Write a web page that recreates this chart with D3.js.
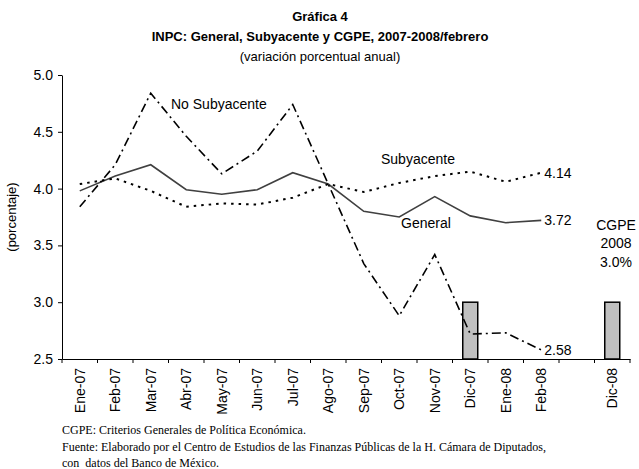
<!DOCTYPE html>
<html>
<head>
<meta charset="utf-8">
<script src="https://cdn.jsdelivr.net/npm/d3@7"></script>
<style>
  body { margin: 0; background: #fff; }
  svg { font-family: Arial, "Liberation Sans", sans-serif; }
  .axis text { font-size: 14px; fill: #000; }
  .axis path, .axis line { stroke: #000; }
</style>
</head>
<body>
<div class="chart"></div>
<script>
// data
const categories = ['Ene-07', 'Feb-07', 'Mar-07', 'Abr-07', 'May-07', 'Jun-07', 'Jul-07',
  'Ago-07', 'Sep-07', 'Oct-07', 'Nov-07', 'Dic-07', 'Ene-08', 'Feb-08', '', 'Dic-08'];
const months = categories.slice(0, 14);
const general = [3.98, 4.11, 4.21, 3.99, 3.95, 3.99, 4.14, 4.04, 3.80, 3.75, 3.93, 3.76, 3.70, 3.72];
const subyacente = [4.04, 4.09, 3.98, 3.84, 3.87, 3.86, 3.92, 4.04, 3.97, 4.05, 4.11, 4.15, 4.06, 4.14];
const noSubyacente = [3.84, 4.21, 4.84, 4.46, 4.13, 4.33, 4.74, 4.04, 3.34, 2.88, 3.42, 2.72, 2.73, 2.58];
const cgpeCats = ['Dic-07', 'Dic-08'];
const cgpeValues = [3.0, 3.0];
const yTicks = [2.5, 3.0, 3.5, 4.0, 4.5, 5.0];

const svgWidth = 639;
const svgHeight = 469;
const margin = { top: 75, right: 9, bottom: 110, left: 62 };
const width = svgWidth - margin.left - margin.right;
const height = svgHeight - margin.top - margin.bottom;

const svg = d3.select('.chart')
  .append('svg')
  .attr('width', svgWidth)
  .attr('height', svgHeight);

const chartGroup = svg.append('g')
  .attr('transform', `translate(${margin.left}, ${margin.top})`);

// scales
const x = d3.scaleBand().domain(categories).range([0, width]).padding(0);
const y = d3.scaleLinear().domain([2.5, 5.0]).range([height, 0]);
const cx = d => x(d) + x.bandwidth() / 2;

// titles
const titles = [
  { t: 'Gráfica 4', y: 21, w: 'bold' },
  { t: 'INPC: General, Subyacente y CGPE, 2007-2008/febrero', y: 41, w: 'bold' },
  { t: '(variación porcentual anual)', y: 61, w: 'normal' }
];
svg.selectAll('.title')
  .data(titles)
  .enter()
  .append('text')
  .attr('x', 320)
  .attr('y', d => d.y)
  .attr('text-anchor', 'middle')
  .style('font-size', '13px')
  .style('font-weight', d => d.w)
  .text(d => d.t);

// y axis
chartGroup.append('g')
  .attr('class', 'axis')
  .call(d3.axisLeft(y).tickValues(yTicks).tickFormat(d3.format('.1f'))
    .tickSize(4).tickSizeOuter(0).tickPadding(5));

// x axis: labels at centres, ticks at band edges
const xAxis = chartGroup.append('g')
  .attr('class', 'axis')
  .attr('transform', `translate(0, ${height})`)
  .call(d3.axisBottom(x).tickSize(0).tickSizeOuter(0).tickPadding(0));
xAxis.selectAll('text')
  .attr('transform', 'rotate(-90)')
  .attr('x', -9)
  .attr('y', 0)
  .attr('dy', '0.36em')
  .style('text-anchor', 'end');

const edges = categories.map(d => x(d)).concat([width]);
xAxis.selectAll('.edge')
  .data(edges)
  .enter()
  .append('line')
  .attr('x1', d => d)
  .attr('x2', d => d)
  .attr('y1', 0)
  .attr('y2', 4)
  .attr('stroke', '#000');

// CGPE bars
const barW = 15;
chartGroup.selectAll('.bar')
  .data(cgpeCats)
  .enter()
  .append('rect')
  .attr('x', d => cx(d) - barW / 2)
  .attr('y', (d, i) => y(cgpeValues[i]))
  .attr('width', barW)
  .attr('height', (d, i) => height - y(cgpeValues[i]))
  .attr('fill', '#c0c0c0')
  .attr('stroke', '#000')
  .attr('stroke-width', 1.5);

// lines
const series = [
  { name: 'general', values: general, color: '#404040', dash: null, w: 1.6 },
  { name: 'subyacente', values: subyacente, color: '#000', dash: '2.5,5', w: 2 },
  { name: 'noSub', values: noSubyacente, color: '#000', dash: '9,4,2,4', w: 1.6 }
];
const line = d3.line()
  .x((d, i) => cx(months[i]))
  .y(d => y(d));

chartGroup.selectAll('.series')
  .data(series)
  .enter()
  .append('path')
  .attr('d', d => line(d.values))
  .attr('fill', 'none')
  .attr('stroke', d => d.color)
  .attr('stroke-width', d => d.w)
  .attr('stroke-dasharray', d => d.dash);

// end labels
const last = months.length - 1;
const ends = [
  { v: general[last], label: '3.72', dy: 5 },
  { v: subyacente[last], label: '4.14', dy: 5 },
  { v: noSubyacente[last], label: '2.58', dy: 5 }
];
chartGroup.selectAll('.endlabel')
  .data(ends)
  .enter()
  .append('text')
  .attr('x', cx(months[last]) + 3)
  .attr('y', d => y(d.v) + d.dy)
  .style('font-size', '14px')
  .text(d => d.label);

// series names
const notes = [
  { t: 'No Subyacente', x: 171, y: 108.5 },
  { t: 'Subyacente', x: 381, y: 163.5 },
  { t: 'General', x: 401, y: 227.5 }
];
svg.selectAll('.note')
  .data(notes)
  .enter()
  .append('text')
  .attr('x', d => d.x)
  .attr('y', d => d.y)
  .style('font-size', '14px')
  .text(d => d.t);

// CGPE note
svg.selectAll('.cgpe')
  .data(['CGPE', '2008', '3.0%'])
  .enter()
  .append('text')
  .attr('x', 616)
  .attr('y', (d, i) => 230 + i * 18.3)
  .attr('text-anchor', 'middle')
  .style('font-size', '14px')
  .text(d => d);

// y axis title
svg.append('text')
  .attr('transform', 'rotate(-90)')
  .attr('x', -217)
  .attr('y', 16)
  .attr('text-anchor', 'middle')
  .style('font-size', '13px')
  .text('(porcentaje)');

// footnotes
const foot = [
  'CGPE: Criterios Generales de Política Económica.',
  'Fuente: Elaborado por el Centro de Estudios de las Finanzas Públicas de la H. Cámara de Diputados,',
  'con  datos del Banco de México.'
];
svg.selectAll('.foot')
  .data(foot)
  .enter()
  .append('text')
  .attr('x', 62)
  .attr('y', (d, i) => 434 + i * 16.5)
  .style('font-family', '"Liberation Serif", "Times New Roman", serif')
  .style('font-size', '12px')
  .style('white-space', 'pre')
  .attr('xml:space', 'preserve')
  .text(d => d);
</script>
</body>
</html>
